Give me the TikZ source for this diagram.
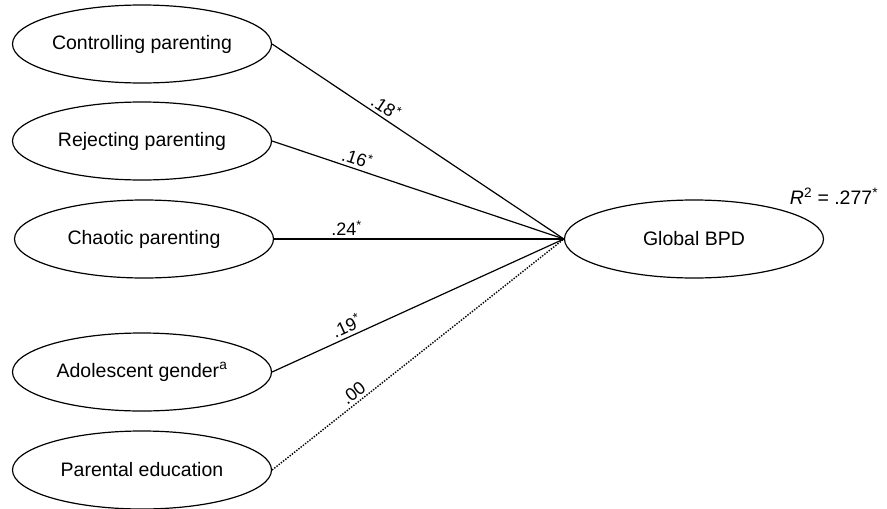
\documentclass[tikz,border=0pt]{standalone}
\usepackage{fontspec}
\setmainfont{Liberation Sans}
\usetikzlibrary{shapes.geometric}
\begin{document}
\begin{tikzpicture}[x=1pt,y=-1pt,
  var/.style={draw,ellipse,line width=1.2pt,minimum width=259pt,minimum height=78pt,inner sep=0pt,font=\fontsize{19.5}{22}\selectfont},
  path/.style={line width=1.2pt},
  nopath/.style={line width=1.4pt,dash pattern=on 1.4pt off 1.4pt},
  coef/.style={font=\fontsize{18}{20}\selectfont,inner sep=3pt}]
\useasboundingbox (0,0) rectangle (887,509);
\node[var] (ctrl) at (142,44) {Controlling parenting};
\node[var] (rej) at (142,141) {Rejecting parenting};
\node[var] (cha) at (144,239) {Chaotic parenting};
\node[var] (gen) at (142,372) {Adolescent gender\textsuperscript{a}};
\node[var] (edu) at (142,470) {Parental education};
\node[var] (bpd) at (694,239) {Global BPD};
\node[font=\fontsize{19.5}{22}\selectfont,anchor=center] (r2) at (834,196) {\textit{R}\textsuperscript{2} = .277\textsuperscript{*}};
\draw[path] (ctrl.east) -- node[coef,sloped,above,pos=0.37] (l1) {.18\textsuperscript{*}} (bpd.west);
\draw[path] (rej.east) -- node[coef,sloped,above,pos=0.28] (l2) {.16\textsuperscript{*}} (bpd.west);
\draw[path] (cha.east) -- node[coef,above,pos=0.25] (l3) {.24\textsuperscript{*}} (bpd.west);
\draw[path] (gen.east) -- node[coef,sloped,above,pos=0.27] (l4) {.19\textsuperscript{*}} (bpd.west);
\draw[nopath] (edu.east) -- node[coef,sloped,above,pos=0.30] (l5) {.00} (bpd.west);
\end{tikzpicture}
\end{document}
